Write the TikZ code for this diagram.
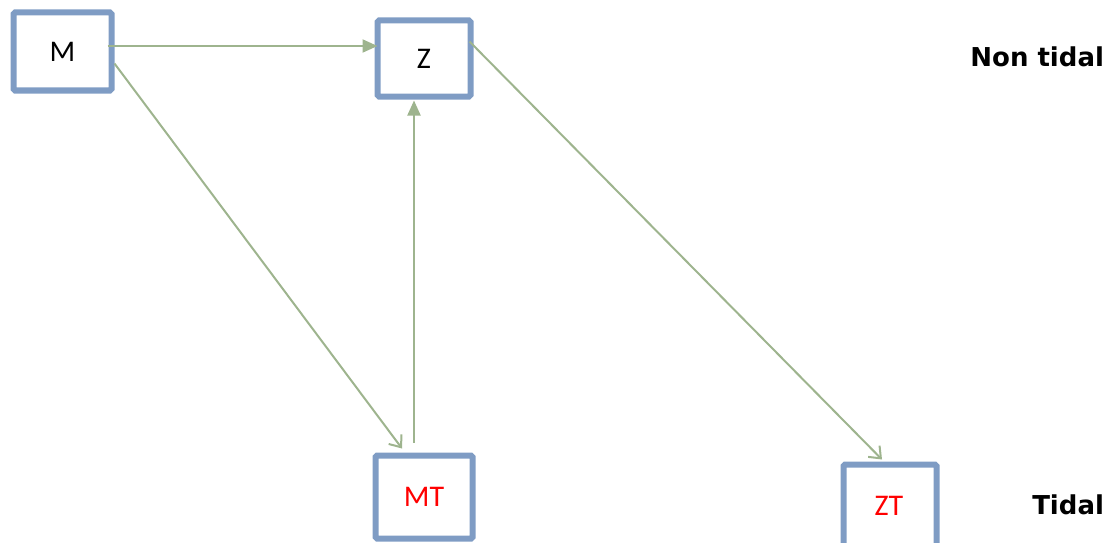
\documentclass[tikz,border=0pt]{standalone}
\usepackage{fontspec}
\setmainfont{Carlito}
\newfontfamily\sidefont{DejaVu Sans}
\usetikzlibrary{arrows.meta}
\definecolor{boxblue}{RGB}{127,156,196}
\definecolor{arrgreen}{RGB}{158,180,142}
\tikzset{
  var/.style={draw=boxblue, line width=6pt, rounded corners=1.5pt, outer sep=0pt,
    inner sep=0pt, font=\fontsize{30}{30}\selectfont},
  fwd/.style={draw=arrgreen, line width=2pt, -{Triangle[length=15pt,width=13pt]}},
  lag/.style={draw=arrgreen, line width=2pt, -{Straight Barb[length=10pt,width=16pt,line width=2pt]}},
  side/.style={font=\sidefont\bfseries\fontsize{26}{26}\selectfont, anchor=east}
}
\begin{document}
\begin{tikzpicture}[x=1pt, y=-1pt]
\clip (0,0) rectangle (1106,543);
\node[var, minimum width=98pt, minimum height=78pt] (m) at (62.5,51.5) {M};
\node[var, minimum width=93pt, minimum height=76pt] (z) at (424,58.5) {Z};
\node[var, minimum width=97pt, minimum height=83pt, text=red] (mt) at (424,497) {MT};
\node[var, minimum width=93pt, minimum height=90pt] (zt) at (890,509.5) {};
\node[text=red, font=\fontsize{30}{30}\selectfont] at (889,506) {ZT};
\node[side] (nt) at (1107.5,57) {Non tidal};
\node[side] (td) at (1107.5,505) {Tidal};
% connections
\draw[fwd] ([xshift=-4pt, yshift=5.5pt]m.east) -- ([yshift=12.5pt]z.west);
\draw[lag] ([xshift=3pt, yshift=-12pt]m.east) -- ([xshift=-22pt, yshift=7pt]mt.north);
\draw[fwd] ([xshift=-10pt, yshift=13pt]mt.north) -- ([xshift=-10pt, yshift=-4pt]z.south);
\draw[lag] ([xshift=-1pt, yshift=17pt]z.east) -- ([xshift=-8pt, yshift=5pt]zt.north);
\end{tikzpicture}
\end{document}
